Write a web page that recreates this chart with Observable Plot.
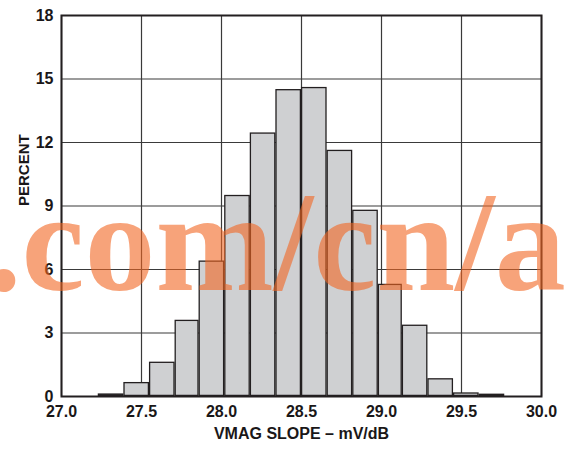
<!DOCTYPE html>
<html>
<head>
<meta charset="utf-8">
<script src="https://cdn.jsdelivr.net/npm/d3@7"></script>
<script src="https://cdn.jsdelivr.net/npm/@observablehq/plot@0.6"></script>
<style>
  html, body { margin: 0; padding: 0; background: #fff; }
  #chart svg { display: block; }
</style>
</head>
<body>
<div id="chart"></div>
<script>
// Histogram bin edges (mV/dB)
const binEdges = [27.23, 27.39, 27.55, 27.71, 27.86, 28.02, 28.18, 28.34, 28.50,
                  28.66, 28.82, 28.98, 29.13, 29.29, 29.45, 29.61, 29.77];
// Percent in each bin
const percents = [0.12, 0.66, 1.62, 3.6, 6.4, 9.5, 12.45, 14.5, 14.6,
                  11.63, 8.8, 5.3, 3.37, 0.84, 0.17, 0.11];
const xTicks = [27.0, 27.5, 28.0, 28.5, 29.0, 29.5, 30.0];
const yTicks = [0, 3, 6, 9, 12, 15, 18];
const xLabel = "VMAG SLOPE – mV/dB";
const yLabel = "PERCENT";
const watermark = ".com/cn/a";

const bins = percents.map((p, i) => ({x1: binEdges[i], x2: binEdges[i + 1], p}));

const font = "'Liberation Sans', Arial, Helvetica, sans-serif";

const chart = Plot.plot({
  width: 565,
  height: 450,
  marginLeft: 61,
  marginRight: 24,
  marginTop: 15,
  marginBottom: 54,
  style: {fontFamily: font, fontWeight: "bold", fontSize: "16px", color: "#1a1718", background: "#fff", overflow: "hidden"},
  x: {domain: [27, 30]},
  y: {domain: [0, 18]},
  marks: [
    Plot.ruleX(xTicks, {stroke: "#3a3a3a", strokeWidth: 1.2}),
    Plot.ruleY(yTicks, {stroke: "#3a3a3a", strokeWidth: 1.2}),
    Plot.rectY(bins, {x1: "x1", x2: "x2", y: "p", fill: "#cfd0d2", stroke: "#231f20", strokeWidth: 1.3, inset: 0.6}),
    Plot.frame({stroke: "#231f20", strokeWidth: 2}),
    Plot.axisX(xTicks, {tickSize: 0, tickPadding: 9, tickFormat: d => d.toFixed(1), label: null, fontSize: 16, fill: "#1a1718"}),
    Plot.axisY(yTicks, {tickSize: 0, tickPadding: 8, label: null, fontSize: 16, fill: "#1a1718"}),
    Plot.text([xLabel], {frameAnchor: "bottom", dy: 42, fontSize: 16, fontWeight: "bold", fill: "#1a1718"}),
    Plot.text([yLabel], {frameAnchor: "left", dx: -37, rotate: -90, fontSize: 15, fontWeight: "bold", fill: "#1a1718"})
  ]
});

document.getElementById("chart").appendChild(chart);

d3.select(chart).append("text")
  .attr("x", -14)
  .attr("y", 290)
  .attr("text-anchor", "start")
  .attr("font-family", "'Liberation Serif', 'DejaVu Serif', serif")
  .attr("font-weight", "bold")
  .attr("font-size", 142)
  .attr("fill", "#f26522")
  .attr("fill-opacity", 0.6)
  .text(watermark);
</script>
</body>
</html>
